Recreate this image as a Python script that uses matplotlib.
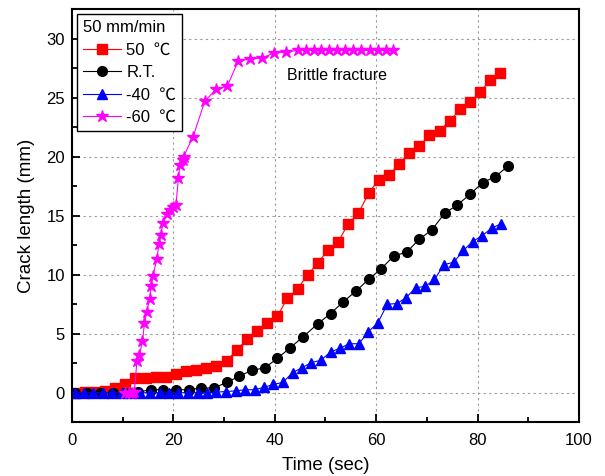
import matplotlib
matplotlib.use("Agg")
import matplotlib.pyplot as plt
from matplotlib.ticker import MultipleLocator

plt.rcParams["font.family"] = ["Liberation Sans", "Noto Sans CJK KR", "DejaVu Sans"]

# crack length vs time, 50 mm/min
t_50 = [0.5, 2.5, 4.5, 6.5, 8.5, 10.5, 12.5, 14.5, 16.5, 18.5, 20.5, 22.5, 24.5,
        26.5, 28.5, 30.5, 32.5, 34.5, 36.5, 38.5, 40.5, 42.5, 44.5, 46.5, 48.5,
        50.5, 52.5, 54.5, 56.5, 58.5, 60.5, 62.5, 64.5, 66.5, 68.5, 70.5, 72.5,
        74.5, 76.5, 78.5, 80.5, 82.5, 84.5]
a_50 = [0.0, 0.1, 0.05, 0.15, 0.4, 0.75, 1.25, 1.27, 1.35, 1.35, 1.55, 1.8, 1.95,
        2.1, 2.3, 2.7, 3.6, 4.55, 5.2, 5.9, 6.5, 8.0, 8.8, 10.0, 11.0,
        12.1, 12.8, 14.3, 15.2, 16.9, 18.05, 18.4, 19.4, 20.3, 20.9, 21.8, 22.2,
        23.0, 24.0, 24.6, 25.45, 26.5, 27.1]

t_rt = [0.5, 3.0, 5.5, 8.0, 10.5, 13.0, 15.5, 18.0, 20.5, 23.0, 25.5, 28.0, 30.5,
        33.0, 35.5, 38.0, 40.5, 43.0, 45.5, 48.5, 51.0, 53.5, 56.0, 58.5, 61.0,
        63.5, 66.0, 68.5, 71.0, 73.5, 76.0, 78.5, 81.0, 83.5, 86.0]
a_rt = [0.0, 0.0, 0.0, 0.0, 0.0, 0.05, 0.25, 0.25, 0.25, 0.25, 0.4, 0.4, 0.87,
        1.4, 1.9, 2.1, 2.9, 3.8, 4.7, 5.85, 6.7, 7.7, 8.6, 9.6, 10.5,
        11.6, 11.9, 13.0, 13.8, 15.2, 15.9, 16.8, 17.8, 18.3, 19.2]

t_m40 = [0.5, 2.3, 4.2, 6.1, 7.9, 9.8, 11.7, 13.5, 15.4, 17.3, 19.2, 21.0, 22.9,
         24.8, 26.6, 28.5, 30.4, 32.3, 34.1, 36.0, 37.9, 39.7, 41.6, 43.5, 45.3,
         47.2, 49.1, 51.0, 52.8, 54.7, 56.6, 58.4, 60.3, 62.2, 64.1, 65.9, 67.8,
         69.7, 71.5, 73.4, 75.3, 77.2, 79.0, 80.9, 82.8, 84.6]
a_m40 = [0.0, 0.0, 0.0, 0.0, 0.0, 0.0, 0.0, 0.0, 0.0, 0.0, 0.0, 0.0, 0.0,
         0.0, 0.0, 0.05, 0.1, 0.15, 0.25, 0.25, 0.45, 0.7, 0.87, 1.7, 2.1,
         2.55, 2.75, 3.45, 3.75, 4.15, 4.15, 5.15, 5.9, 7.5, 7.55, 8.05, 8.9,
         9.0, 9.6, 10.85, 11.05, 12.05, 12.8, 13.3, 13.95, 14.3]

t_m60 = [10.5, 11.2, 11.8, 12.3, 12.8, 13.3, 13.9, 14.3, 14.7, 15.3, 15.6, 16.0,
         16.7, 17.2, 17.5, 18.0, 18.7, 19.3, 20.0, 20.5, 21.0, 21.3, 21.8, 22.0,
         23.9, 26.2, 28.4, 30.6, 32.8, 35.2, 37.5, 39.9, 42.2, 44.5, 46.2, 47.7,
         49.2, 50.7, 52.2, 53.8, 55.5, 57.1, 58.8, 60.4, 61.9, 63.3]
a_m60 = [0.0, 0.0, 0.0, 0.1, 2.65, 3.2, 4.35, 5.9, 6.8, 7.9, 9.0, 9.9,
         11.3, 12.6, 13.4, 14.4, 15.1, 15.45, 15.7, 15.9, 18.2, 19.3, 19.75, 20.0,
         21.7, 24.7, 25.7, 25.95, 28.1, 28.3, 28.35, 28.8, 28.85, 29.0, 29.0, 29.0,
         29.0, 29.0, 29.0, 29.0, 29.0, 29.0, 29.0, 29.0, 29.0, 29.0]

fig = plt.figure(figsize=(6.05, 4.76), dpi=100)
ax = fig.add_axes([0.119, 0.113, 0.838, 0.868])

ax.plot(t_50, a_50, "-s", color="red", lw=0.8, ms=7, label="50  ℃")
ax.plot(t_rt, a_rt, "-o", color="black", lw=0.8, ms=7, label="R.T.")
ax.plot(t_m40, a_m40, "-^", color="blue", lw=0.8, ms=7, label="-40  ℃")
ax.plot(t_m60, a_m60, "-*", color="magenta", lw=0.8, ms=9, label="-60  ℃")

ax.text(52.3, 26.9, "Brittle fracture", fontsize=11.5, ha="center", va="center")

ax.set_xlim(0, 100)
ax.set_ylim(-2.5, 32.5)
ax.xaxis.set_major_locator(MultipleLocator(20))
ax.xaxis.set_minor_locator(MultipleLocator(10))
ax.yaxis.set_major_locator(MultipleLocator(5))
ax.yaxis.set_minor_locator(MultipleLocator(2.5))
ax.tick_params(which="both", direction="in", labelsize=12, width=1.3)
ax.tick_params(which="major", length=6)
ax.tick_params(which="minor", length=3.5)
ax.tick_params(axis="x", pad=8)
ax.tick_params(axis="y", pad=5)
ax.grid(True, which="major", ls=(0, (2, 3)), color="#999999", lw=0.8)
for s in ax.spines.values():
    s.set_linewidth(1.5)

ax.set_xlabel("Time (sec)", fontsize=13.5, labelpad=6)
ax.set_ylabel("Crack length (mm)", fontsize=13.5, labelpad=8)

leg = ax.legend(title="50 mm/min", loc="upper left", fontsize=12, title_fontsize=12,
                fancybox=False, edgecolor="black", framealpha=1,
                borderaxespad=0.3, handlelength=2.3, handletextpad=0.3,
                labelspacing=0.45, borderpad=0.35)
leg.get_frame().set_linewidth(1.0)
leg._legend_box.align = "left"

fig.savefig("out.png", dpi=100)
